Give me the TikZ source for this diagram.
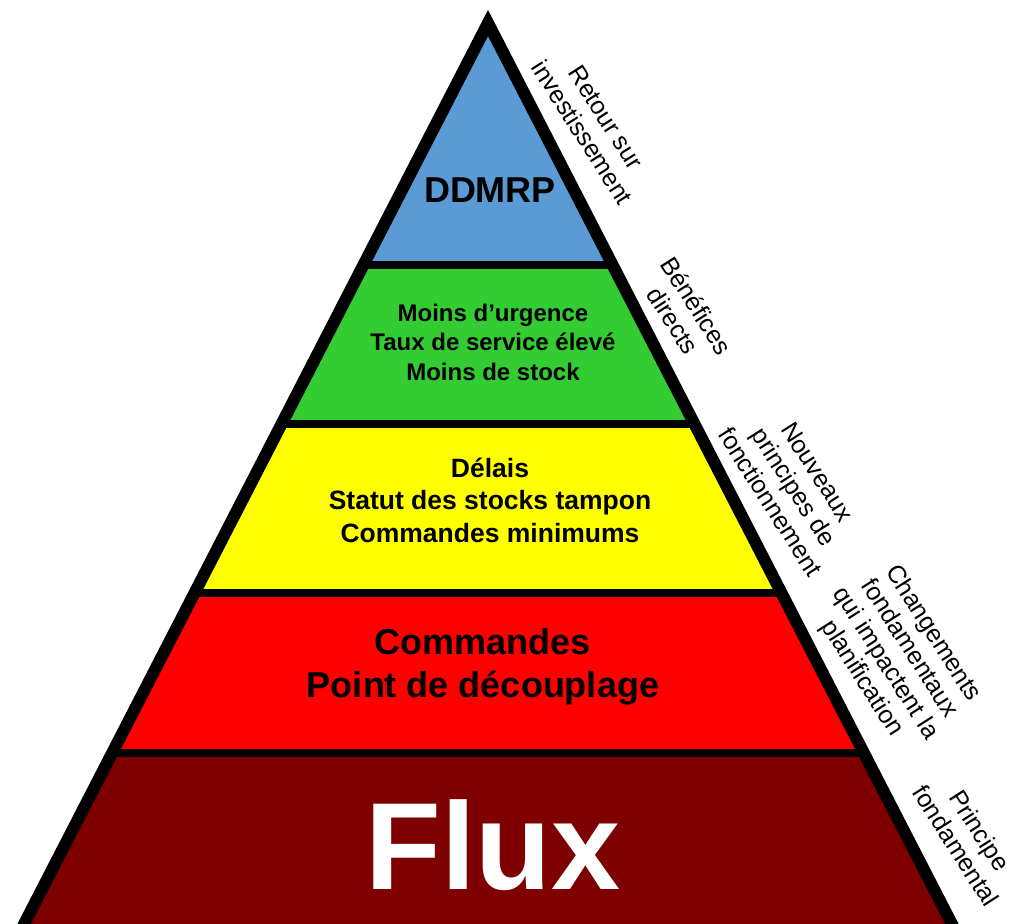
\documentclass[tikz,border=0pt]{standalone}
\usepackage{fontspec}
\setmainfont{Liberation Sans}
\usetikzlibrary{calc,positioning}

\definecolor{bandblue}{HTML}{5B9BD5}
\definecolor{bandgreen}{HTML}{33CC33}
\definecolor{bandyellow}{HTML}{FFFF00}
\definecolor{bandred}{HTML}{FF0000}
\definecolor{banddark}{HTML}{7F0000}

\tikzset{
  bandtext/.style={align=center, inner sep=0pt},
  sidelabel/.style={rotate=-57.5, align=center, inner sep=0pt, font=\fontsize{25}{28}\selectfont},
  separator/.style={line width=8pt},
}

\begin{document}
\begin{tikzpicture}[x=1pt, y=-1pt]
  \useasboundingbox (0,0) rectangle (1019,923);
  \clip (0,0) rectangle (1019,923);

  \coordinate (apex) at (488,23);
  \coordinate (baseL) at (21,930);
  \coordinate (baseR) at (955,930);

  \begin{scope}
    \clip (apex) -- (baseL) -- (baseR) -- cycle;
    \fill[bandblue] (0,0) rectangle (1019,265);
    \fill[bandgreen] (0,265) rectangle (1019,424);
    \fill[bandyellow] (0,424) rectangle (1019,593);
    \fill[bandred] (0,593) rectangle (1019,753);
    \fill[banddark] (0,753) rectangle (1019,940);
    \draw[separator] (0,265) -- (1019,265);
    \draw[separator] (0,424) -- (1019,424);
    \draw[separator] (0,593) -- (1019,593);
    \draw[separator] (0,753) -- (1019,753);
  \end{scope}
  \draw[line width=12pt, line join=miter] (apex) -- (baseL) -- (baseR) -- cycle;

  \node[bandtext, font=\bfseries\fontsize{36}{43}\selectfont] (ddmrp) at (490,190) {DDMRP};
  \node[bandtext, font=\bfseries\fontsize{24}{29.5}\selectfont] (benefits) at (493,342) {Moins d’urgence\\Taux de service élevé\\Moins de stock};
  \node[bandtext, font=\bfseries\fontsize{26.5}{32.5}\selectfont] (principles) at (490,500) {Délais\\Statut des stocks tampon\\Commandes minimums};
  \node[bandtext, font=\bfseries\fontsize{36}{43}\selectfont] (planning) at (483,667) {Commandes\\Point de découplage};
  \node[bandtext, text=white, font=\bfseries\fontsize{124}{130}\selectfont] (flux) at (493,845) {Flux};

  \node[sidelabel] (roi) at (594,125) {Retour sur\\investissement};
  \node[sidelabel] (direct) at (685,313) {Bénéfices\\directs};
  \node[sidelabel] (newrules) at (794,487) {Nouveaux\\principes de\\fonctionnement};
  \node[sidelabel] (changes) at (897,656) {Changements\\fondamentaux\\qui impactent la\\planification};
  \node[sidelabel] (basis) at (968,838) {Principe\\fondamental};
\end{tikzpicture}
\end{document}
